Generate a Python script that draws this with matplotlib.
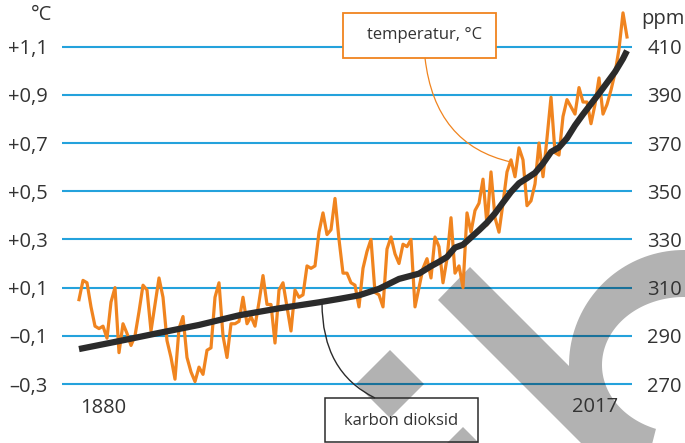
import numpy as np
import matplotlib
matplotlib.use("Agg")
import matplotlib.pyplot as plt
from matplotlib.patches import Rectangle, PathPatch
from matplotlib.path import Path
from matplotlib.transforms import Affine2D

# temperature, one value per year
years = np.arange(1880, 2018)
temp = [
    0.05, 0.13, 0.12, 0.02, -0.06, -0.07, -0.06, -0.11, 0.04, 0.10,      # 1880s
    -0.17, -0.05, -0.09, -0.14, -0.10, 0.00, 0.11, 0.09, -0.08, 0.03,    # 1890s
    0.14, 0.06, -0.12, -0.19, -0.28, -0.07, -0.02, -0.19, -0.25, -0.29,  # 1900s
    -0.23, -0.26, -0.16, -0.15, 0.06, 0.12, -0.10, -0.19, -0.05, -0.05,  # 1910s
    -0.04, 0.06, -0.05, -0.02, -0.06, 0.04, 0.15, 0.03, 0.03, -0.13,     # 1920s
    0.09, 0.12, 0.02, -0.08, 0.09, 0.06, 0.07, 0.19, 0.18, 0.19,         # 1930s
    0.33, 0.41, 0.32, 0.34, 0.47, 0.30, 0.16, 0.16, 0.12, 0.11,          # 1940s
    0.02, 0.18, 0.25, 0.30, 0.08, 0.07, 0.02, 0.26, 0.31, 0.24,          # 1950s
    0.20, 0.28, 0.27, 0.30, 0.02, 0.10, 0.18, 0.22, 0.14, 0.31,          # 1960s
    0.27, 0.12, 0.22, 0.39, 0.16, 0.19, 0.10, 0.41, 0.33, 0.42,          # 1970s
    0.45, 0.55, 0.36, 0.58, 0.39, 0.33, 0.45, 0.58, 0.63, 0.56,          # 1980s
    0.68, 0.63, 0.44, 0.46, 0.53, 0.70, 0.56, 0.72, 0.89, 0.66,          # 1990s
    0.65, 0.81, 0.88, 0.85, 0.82, 0.93, 0.87, 0.87, 0.78, 0.86,          # 2000s
    0.97, 0.82, 0.86, 0.92, 0.99, 1.09, 1.24, 1.14,                      # 2010s
]
assert len(temp) == len(years)

# carbon dioxide, ppm
co2_years = [1880, 1890, 1900, 1910, 1920, 1930, 1940, 1945, 1950, 1955,
             1960, 1965, 1968, 1970, 1972, 1974, 1976, 1978, 1980, 1982,
             1984, 1986, 1988, 1990, 1992, 1994, 1996, 1998, 2000, 2002,
             2004, 2006, 2008, 2010, 2012, 2014, 2016, 2017]
co2_ppm = [284.5, 287.8, 291.2, 294.5, 298.5, 301.4, 303.9, 305.3, 306.8, 309.5,
           313.6, 315.8, 318.9, 320.7, 322.7, 326.6, 327.8, 330.8, 333.8, 337.0,
           340.8, 345.3, 349.7, 353.3, 355.4, 357.6, 361.5, 366.3, 368.2, 372.0,
           377.3, 381.9, 386.2, 390.5, 395.0, 399.5, 405.0, 408.3]

temp_ticks = [-0.3, -0.1, 0.1, 0.3, 0.5, 0.7, 0.9, 1.1]
temp_labels = ["\u20130,3", "\u20130,1", "+0,1", "+0,3", "+0,5", "+0,7", "+0,9", "+1,1"]
ppm_ticks = [270, 290, 310, 330, 350, 370, 390, 410]

BLUE = "#24a2dc"
ORANGE = "#f0841f"
DARK = "#2b2b2b"
TXT = "#333333"

plt.rcParams["font.family"] = ["Open Sans", "DejaVu Sans"]

W, H = 685, 443
fig = plt.figure(figsize=(W / 100, H / 100), dpi=100)
# pixel coords (origin top left) -> figure
pix = Affine2D().scale(1 / W, -1 / H).translate(0, 1) + fig.transFigure

ax = fig.add_axes([62 / W, 0, (632 - 62) / W, 1])
ax.set_xlim(1875.75, 2018.25)
ax.set_ylim(-0.5448, 1.2934)
ax2 = ax.twinx()
ax2.set_ylim(245.52, 429.34)

for a in (ax, ax2):
    for s in a.spines.values():
        s.set_visible(False)
    a.set_xticks([])
    a.tick_params(axis="y", length=0, labelsize=14.5, labelcolor=TXT)

ax.set_yticks(temp_ticks, temp_labels)
ax.tick_params(axis="y", pad=10)
ax2.set_yticks(ppm_ticks, [str(v) for v in ppm_ticks])
ax2.tick_params(axis="y", pad=11)

for t in temp_ticks:
    ax.axhline(t, color=BLUE, lw=1.5, zorder=1)

# grey watermark shapes, one compound path so overlaps are not darker
def ccw(pts):
    pts = np.asarray(pts, float)
    x, y = pts[:, 0], pts[:, 1]
    area = np.sum(x * np.roll(y, -1) - np.roll(x, -1) * y)
    return pts if area > 0 else pts[::-1]

cx, cy = 684, 365
th = np.radians(np.linspace(55, 250, 90))
outer = np.c_[cx + 115 * np.cos(th), cy - 115 * np.sin(th)]
inner = np.c_[cx + 82 * np.cos(th[::-1]), cy - 68 * np.sin(th[::-1])]
shapes = [
    [(438, 300), (470, 267), (700, 497), (668, 530)],
    [(390, 350), (424, 384), (390, 418), (356, 384)],
    [(463, 427), (497, 461), (463, 495), (429, 461)],
    np.vstack([outer, inner]),
]
verts, codes = [], []
for s in shapes:
    p = ccw(s)
    verts += list(p) + [p[0]]
    codes += [Path.MOVETO] + [Path.LINETO] * (len(p) - 1) + [Path.CLOSEPOLY]
wm = PathPatch(Path(verts, codes), facecolor="black", edgecolor="none",
               alpha=0.3, transform=pix, clip_on=False, zorder=1.5)
ax.add_patch(wm)

ax.plot(years, temp, color=ORANGE, lw=2.3, zorder=3)
ax2.plot(co2_years, co2_ppm, color=DARK, lw=4.5, solid_capstyle="butt", zorder=3)

# callouts
box1 = Rectangle((343, 13), 153, 45, transform=pix, facecolor="white",
                 edgecolor=ORANGE, lw=1.3, zorder=4, clip_on=False)
ax.add_patch(box1)
fig.text(425 / W, 1 - 35 / H, "temperatur, \u00b0C", ha="center", va="center",
         fontsize=12, color=TXT, zorder=5)
lead1 = PathPatch(Path([(425, 58), (435, 145), (511, 162)],
                       [Path.MOVETO, Path.CURVE3, Path.CURVE3]),
                  transform=pix, facecolor="none", edgecolor=ORANGE, lw=0.9,
                  clip_on=False, zorder=4)
ax.add_patch(lead1)

box2 = Rectangle((325, 398), 153, 44, transform=pix, facecolor="none",
                 edgecolor=DARK, lw=1.1, zorder=4, clip_on=False)
ax.add_patch(box2)
fig.text(401 / W, 1 - 421 / H, "karbon dioksid", ha="center", va="center",
         fontsize=12, color=TXT, zorder=5)
lead2 = PathPatch(Path([(322, 303), (322, 372), (375, 398)],
                       [Path.MOVETO, Path.CURVE3, Path.CURVE3]),
                  transform=pix, facecolor="none", edgecolor=DARK, lw=1.0,
                  clip_on=False, zorder=4)
ax.add_patch(lead2)

fig.text(42 / W, 1 - 15 / H, "\u00b0C", ha="center", va="center", fontsize=14.5, color=TXT)
fig.text(641 / W, 1 - 19 / H, "ppm", ha="left", va="center", fontsize=14.5, color=TXT)
fig.text(103 / W, 1 - 408 / H, "1880", ha="center", va="center", fontsize=14.5, color=TXT)
fig.text(595 / W, 1 - 407 / H, "2017", ha="center", va="center", fontsize=14.5, color=TXT)

fig.savefig("out.png", dpi=100)
